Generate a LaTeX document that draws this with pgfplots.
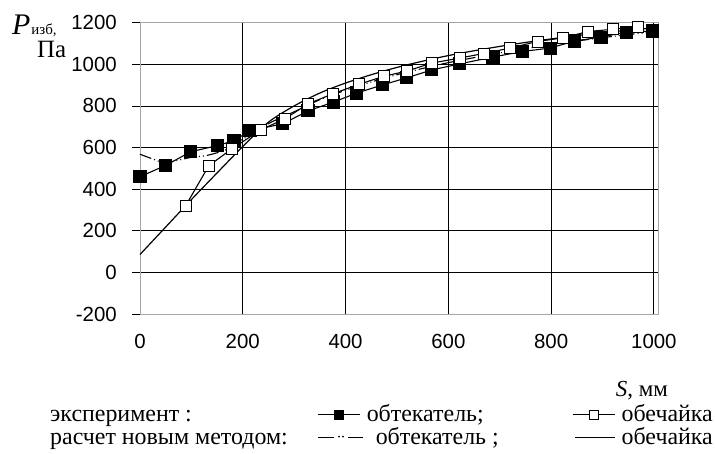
\documentclass[border=0pt]{standalone}
\usepackage{pgfplots}
\pgfplotsset{compat=1.18}
\usepackage{fontspec}
\setmainfont{Liberation Serif}
\newfontfamily\arial{Liberation Sans}
\begin{document}
\begin{tikzpicture}
\path[use as bounding box] (0,0) rectangle (715bp,454bp);
\begin{axis}[
  at={(140bp,140bp)}, anchor=south west,
  scale only axis, width=518bp, height=291.3bp,
  xmin=0, xmax=1008, ymin=-200, ymax=1200,
  xtick={0,200,400,600,800,1000},
  xticklabels={0,200,400,600,800,1000},
  ytick={-200,0,200,400,600,800,1000,1200},
  yticklabels={-200,0,200,400,600,800,1000,1200},
  tick label style={font=\arial\fontsize{20.5}{20.5}\selectfont},
  grid=major, grid style={black, line width=0.8pt},
  axis line style={gray!70, line width=1pt},
  tick align=outside, major tick length=8bp,
  xtick style={draw=none}, ytick style={black, line width=0.8pt},
  xticklabel style={anchor=north, inner sep=0pt, yshift=-12bp},
  yticklabel style={anchor=east, inner sep=0pt, xshift=-15bp},
  tick pos=left,
  clip=false,
]
% расчет: обечайка (solid)
\addplot[black, line width=1.2pt, smooth] coordinates {
(0,86) (50,218) (100,350) (150,478) (200,605) (250,722) (300,800) (350,862)
(400,910) (450,950) (500,985) (550,1015) (600,1042) (650,1065) (700,1086)
(750,1105) (800,1122) (850,1138) (900,1152) (950,1164) (1000,1175)};
% расчет: обтекатель (dash dot dot)
\addplot[black, line width=1.1pt, smooth, dash pattern=on 12bp off 3bp on 1bp off 3bp on 1bp off 3bp] coordinates {
(0,568) (25,545) (50,528) (100,553) (130,562) (170,592) (200,640) (250,715)
(300,772) (350,830) (400,875) (450,915) (500,950) (550,980) (600,1008)
(650,1032) (700,1055) (750,1075) (800,1095) (850,1112) (900,1128) (950,1143) (1000,1155)};
% эксперимент: обтекатель (filled squares)
\addplot[black, line width=1.1pt, mark=square*, mark size=6bp, mark options={solid, fill=black}] coordinates {
(0,460) (49,513) (99,580) (150,609) (183,633) (214,681) (278,714) (327,776)
(377,819) (422,862) (472,901) (519,935) (568,973) (622,1002) (687,1035)
(745,1062) (798,1078) (846,1112) (897,1131) (947,1155) (998,1160)};
% эксперимент: обечайка (open squares)
\addplot[black, line width=1.1pt, mark=square*, mark size=5.5bp, mark options={solid, fill=white, line width=0.8pt}] coordinates {
(89,321) (134,513) (179,594) (235,685) (282,738) (327,810) (375,858)
(426,904) (474,942) (520,968) (568,1006) (622,1030) (669,1052) (720,1078)
(774,1110) (823,1127) (872,1158) (920,1168) (969,1182)};
\end{axis}
% axis titles
\node[anchor=base west, inner sep=0pt, font=\fontsize{30}{30}\selectfont] at (12bp,454bp-35bp) {\textit{P}\hspace{1bp}{\fontsize{15}{15}\selectfont изб,}};
\node[anchor=base west, inner sep=0pt, font=\fontsize{25}{25}\selectfont] at (37bp,454bp-58bp) {Па};
\node[anchor=base east, inner sep=0pt, font=\fontsize{23}{23}\selectfont] at (668bp,454bp-397bp) {\textit{S}, мм};
% legend
\def\symfill#1{\tikz[baseline=-0.6ex]{\draw[line width=1.6pt] (0,0)--(42bp,0); \filldraw[fill=#1, draw=black, line width=0.7pt] (16.5bp,-4.5bp) rectangle (25.5bp,4.5bp);}}
\def\symdd{\tikz[baseline=-0.6ex]{\draw[line width=1.6pt] (0,0)--(16bp,0); \fill (21bp,0.8bp) circle (0.9bp); \fill (25bp,0.8bp) circle (0.9bp); \draw[line width=1.6pt] (30bp,0)--(45bp,0);}}
\def\symsolid{\tikz[baseline=-0.6ex]{\draw[line width=1.6pt] (0,0)--(40bp,0);}}
\begin{scope}[every node/.style={inner sep=0pt, font=\fontsize{24}{24}\selectfont}]
\node[anchor=base west] at (50bp,454bp-421bp) {эксперимент :};
\node[anchor=base west] at (317bp,454bp-421bp) {\symfill{black}\ обтекатель;};
\node[anchor=base east] at (713bp,454bp-421bp) {\symfill{white}\ обечайка};
\node[anchor=base west] at (50bp,454bp-444bp) {расчет новым методом:};
\node[anchor=base west] at (317bp,454bp-444bp) {\symdd\ \ обтекатель ;};
\node[anchor=base east] at (713bp,454bp-444bp) {\symsolid\ обечайка};
\end{scope}
\end{tikzpicture}
\end{document}
